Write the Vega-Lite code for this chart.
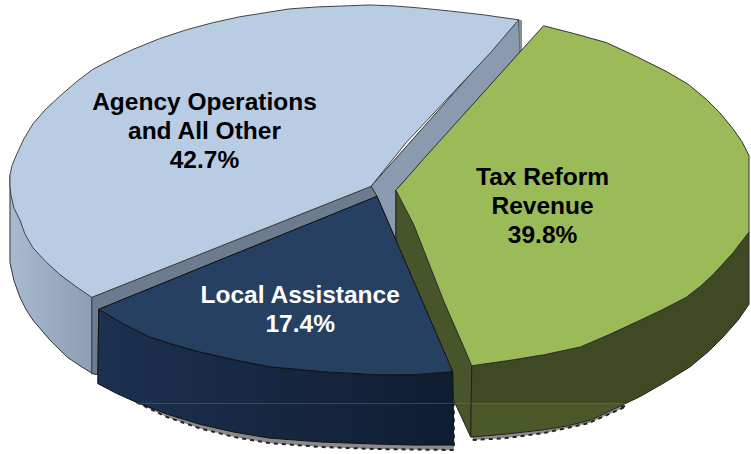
{"$schema":"https://vega.github.io/schema/vega-lite/v6.json","width":751,"height":454,"padding":0,"autosize":{"type":"fit","contains":"padding"},"background":"white","view":{"stroke":null},
"datasets":{"slices":[
{"slice":"Agency Operations and All Other","share":42.7,"label":"Agency Operations\nand All Other\n42.7%","px":205,"py":104,"tone":"dark"},
{"slice":"Tax Reform Revenue","share":39.8,"label":"Tax Reform\nRevenue\n39.8%","px":544,"py":180,"tone":"dark"},
{"slice":"Local Assistance","share":17.4,"label":"Local Assistance\n17.4%","px":301,"py":299,"tone":"light"}],
"outline":[
{"part":"shadow","n":1,"px":137,"py":406},{"part":"shadow","n":2,"px":168,"py":421},{"part":"shadow","n":3,"px":200,"py":432},{"part":"shadow","n":4,"px":235,"py":441},{"part":"shadow","n":5,"px":270,"py":447},{"part":"shadow","n":6,"px":323,"py":451},{"part":"shadow","n":7,"px":376,"py":453},{"part":"shadow","n":8,"px":455,"py":454},{"part":"shadow","n":9,"px":455,"py":405},{"part":"shadow","n":10,"px":137,"py":406},
{"part":"shadowGreen","n":1,"px":474,"py":444},{"part":"shadowGreen","n":2,"px":507,"py":442},{"part":"shadowGreen","n":3,"px":545,"py":437},{"part":"shadowGreen","n":4,"px":590,"py":427},{"part":"shadowGreen","n":5,"px":628,"py":410},{"part":"shadowGreen","n":6,"px":474,"py":405},{"part":"shadowGreen","n":7,"px":474,"py":444},
{"part":"lightSide","n":1,"px":10,"py":177},{"part":"lightSide","n":2,"px":10,"py":265},{"part":"lightSide","n":3,"px":14,"py":283},{"part":"lightSide","n":4,"px":20,"py":300},{"part":"lightSide","n":5,"px":26,"py":312},{"part":"lightSide","n":6,"px":33,"py":323},{"part":"lightSide","n":7,"px":50,"py":343},{"part":"lightSide","n":8,"px":67,"py":360},{"part":"lightSide","n":9,"px":80,"py":369},{"part":"lightSide","n":10,"px":93,"py":377},{"part":"lightSide","n":11,"px":93,"py":300},{"part":"lightSide","n":12,"px":60,"py":277},{"part":"lightSide","n":13,"px":10,"py":177},
{"part":"bandRight","n":1,"px":372,"py":188},{"part":"bandRight","n":2,"px":520,"py":20},{"part":"bandRight","n":3,"px":522,"py":52},{"part":"bandRight","n":4,"px":397,"py":192},{"part":"bandRight","n":5,"px":397,"py":243},{"part":"bandRight","n":6,"px":378,"py":198},{"part":"bandRight","n":7,"px":372,"py":188},
{"part":"bandTip","n":1,"px":520,"py":20},{"part":"bandTip","n":2,"px":523,"py":21},{"part":"bandTip","n":3,"px":523,"py":50},{"part":"bandTip","n":4,"px":521,"py":53},{"part":"bandTip","n":5,"px":520,"py":20},
{"part":"bandLeft","n":1,"px":92,"py":300},{"part":"bandLeft","n":2,"px":372,"py":188},{"part":"bandLeft","n":3,"px":378,"py":198},{"part":"bandLeft","n":4,"px":99,"py":312},{"part":"bandLeft","n":5,"px":98,"py":378},{"part":"bandLeft","n":6,"px":92,"py":377},{"part":"bandLeft","n":7,"px":92,"py":300},
{"part":"lightTop","n":1,"px":520,"py":20},{"part":"lightTop","n":2,"px":485,"py":15},{"part":"lightTop","n":3,"px":450,"py":11},{"part":"lightTop","n":4,"px":420,"py":8},{"part":"lightTop","n":5,"px":395,"py":6},{"part":"lightTop","n":6,"px":370,"py":5},{"part":"lightTop","n":7,"px":345,"py":6},{"part":"lightTop","n":8,"px":318,"py":7},{"part":"lightTop","n":9,"px":290,"py":9},{"part":"lightTop","n":10,"px":265,"py":13},{"part":"lightTop","n":11,"px":240,"py":17},{"part":"lightTop","n":12,"px":213,"py":23},{"part":"lightTop","n":13,"px":187,"py":30},{"part":"lightTop","n":14,"px":160,"py":39},{"part":"lightTop","n":15,"px":133,"py":50},{"part":"lightTop","n":16,"px":112,"py":60},{"part":"lightTop","n":17,"px":93,"py":70},{"part":"lightTop","n":18,"px":76,"py":83},{"part":"lightTop","n":19,"px":60,"py":97},{"part":"lightTop","n":20,"px":46,"py":110},{"part":"lightTop","n":21,"px":33,"py":125},{"part":"lightTop","n":22,"px":24,"py":140},{"part":"lightTop","n":23,"px":17,"py":155},{"part":"lightTop","n":24,"px":12,"py":167},{"part":"lightTop","n":25,"px":10,"py":177},{"part":"lightTop","n":26,"px":10,"py":187},{"part":"lightTop","n":27,"px":11,"py":197},{"part":"lightTop","n":28,"px":14,"py":210},{"part":"lightTop","n":29,"px":20,"py":222},{"part":"lightTop","n":30,"px":25,"py":236},{"part":"lightTop","n":31,"px":33,"py":250},{"part":"lightTop","n":32,"px":46,"py":264},{"part":"lightTop","n":33,"px":60,"py":277},{"part":"lightTop","n":34,"px":76,"py":289},{"part":"lightTop","n":35,"px":92,"py":300},{"part":"lightTop","n":36,"px":372,"py":188},{"part":"lightTop","n":37,"px":408,"py":143},{"part":"lightTop","n":38,"px":492,"py":53},{"part":"lightTop","n":39,"px":520,"py":20},
{"part":"greenInner","n":1,"px":397,"py":192},{"part":"greenInner","n":2,"px":415,"py":227},{"part":"greenInner","n":3,"px":445,"py":304},{"part":"greenInner","n":4,"px":465,"py":350},{"part":"greenInner","n":5,"px":473,"py":369},{"part":"greenInner","n":6,"px":472,"py":441},{"part":"greenInner","n":7,"px":455,"py":404},{"part":"greenInner","n":8,"px":397,"py":243},{"part":"greenInner","n":9,"px":397,"py":192},
{"part":"greenSide","n":1,"px":473,"py":369},{"part":"greenSide","n":2,"px":508,"py":364},{"part":"greenSide","n":3,"px":545,"py":358},{"part":"greenSide","n":4,"px":582,"py":350},{"part":"greenSide","n":5,"px":612,"py":337},{"part":"greenSide","n":6,"px":642,"py":323},{"part":"greenSide","n":7,"px":665,"py":312},{"part":"greenSide","n":8,"px":688,"py":300},{"part":"greenSide","n":9,"px":702,"py":289},{"part":"greenSide","n":10,"px":715,"py":277},{"part":"greenSide","n":11,"px":735,"py":255},{"part":"greenSide","n":12,"px":751,"py":234},{"part":"greenSide","n":13,"px":751,"py":307},{"part":"greenSide","n":14,"px":740,"py":323},{"part":"greenSide","n":15,"px":725,"py":340},{"part":"greenSide","n":16,"px":710,"py":355},{"part":"greenSide","n":17,"px":692,"py":370},{"part":"greenSide","n":18,"px":668,"py":385},{"part":"greenSide","n":19,"px":642,"py":400},{"part":"greenSide","n":20,"px":617,"py":412},{"part":"greenSide","n":21,"px":592,"py":424},{"part":"greenSide","n":22,"px":567,"py":430},{"part":"greenSide","n":23,"px":542,"py":434},{"part":"greenSide","n":24,"px":507,"py":438},{"part":"greenSide","n":25,"px":472,"py":441},{"part":"greenSide","n":26,"px":473,"py":369},
{"part":"greenTop","n":1,"px":397,"py":192},{"part":"greenTop","n":2,"px":425,"py":160},{"part":"greenTop","n":3,"px":545,"py":26},{"part":"greenTop","n":4,"px":576,"py":34},{"part":"greenTop","n":5,"px":608,"py":43},{"part":"greenTop","n":6,"px":638,"py":57},{"part":"greenTop","n":7,"px":668,"py":72},{"part":"greenTop","n":8,"px":690,"py":85},{"part":"greenTop","n":9,"px":708,"py":100},{"part":"greenTop","n":10,"px":722,"py":114},{"part":"greenTop","n":11,"px":735,"py":130},{"part":"greenTop","n":12,"px":744,"py":143},{"part":"greenTop","n":13,"px":751,"py":157},{"part":"greenTop","n":14,"px":751,"py":234},{"part":"greenTop","n":15,"px":735,"py":255},{"part":"greenTop","n":16,"px":715,"py":277},{"part":"greenTop","n":17,"px":702,"py":289},{"part":"greenTop","n":18,"px":688,"py":300},{"part":"greenTop","n":19,"px":665,"py":312},{"part":"greenTop","n":20,"px":642,"py":323},{"part":"greenTop","n":21,"px":612,"py":337},{"part":"greenTop","n":22,"px":582,"py":350},{"part":"greenTop","n":23,"px":545,"py":358},{"part":"greenTop","n":24,"px":508,"py":364},{"part":"greenTop","n":25,"px":473,"py":369},{"part":"greenTop","n":26,"px":465,"py":350},{"part":"greenTop","n":27,"px":445,"py":304},{"part":"greenTop","n":28,"px":415,"py":227},{"part":"greenTop","n":29,"px":397,"py":192},
{"part":"darkSide","n":1,"px":99,"py":312},{"part":"darkSide","n":2,"px":124,"py":327},{"part":"darkSide","n":3,"px":150,"py":340},{"part":"darkSide","n":4,"px":175,"py":348},{"part":"darkSide","n":5,"px":200,"py":355},{"part":"darkSide","n":6,"px":235,"py":363},{"part":"darkSide","n":7,"px":270,"py":370},{"part":"darkSide","n":8,"px":323,"py":375},{"part":"darkSide","n":9,"px":376,"py":378},{"part":"darkSide","n":10,"px":415,"py":378},{"part":"darkSide","n":11,"px":454,"py":375},{"part":"darkSide","n":12,"px":455,"py":449},{"part":"darkSide","n":13,"px":415,"py":449},{"part":"darkSide","n":14,"px":376,"py":448},{"part":"darkSide","n":15,"px":323,"py":446},{"part":"darkSide","n":16,"px":270,"py":442},{"part":"darkSide","n":17,"px":235,"py":436},{"part":"darkSide","n":18,"px":200,"py":428},{"part":"darkSide","n":19,"px":168,"py":418},{"part":"darkSide","n":20,"px":137,"py":406},{"part":"darkSide","n":21,"px":117,"py":397},{"part":"darkSide","n":22,"px":98,"py":387},{"part":"darkSide","n":23,"px":99,"py":312},
{"part":"darkTop","n":1,"px":378,"py":198},{"part":"darkTop","n":2,"px":99,"py":312},{"part":"darkTop","n":3,"px":124,"py":327},{"part":"darkTop","n":4,"px":150,"py":340},{"part":"darkTop","n":5,"px":175,"py":348},{"part":"darkTop","n":6,"px":200,"py":355},{"part":"darkTop","n":7,"px":235,"py":363},{"part":"darkTop","n":8,"px":270,"py":370},{"part":"darkTop","n":9,"px":323,"py":375},{"part":"darkTop","n":10,"px":376,"py":378},{"part":"darkTop","n":11,"px":415,"py":378},{"part":"darkTop","n":12,"px":454,"py":375},{"part":"darkTop","n":13,"px":378,"py":198},
{"part":"seam","n":1,"px":137,"py":407},{"part":"seam","n":2,"px":627,"py":407}
]},
"encoding":{"x":{"field":"px","type":"quantitative","scale":{"domain":[0,751],"nice":false,"zero":false},"axis":null},"y":{"field":"py","type":"quantitative","scale":{"domain":[454,0],"nice":false,"zero":false},"axis":null}},
"layer":[
{"data":{"name":"outline"},"transform":[{"filter":"datum.part=='shadow'||datum.part=='shadowGreen'"}],"mark":{"type":"line","fill":"#8a8a8a","stroke":"#222222","strokeWidth":2,"strokeDash":[4,4]},"encoding":{"order":{"field":"n"},"detail":{"field":"part"}}},
{"data":{"name":"outline"},"transform":[{"filter":"datum.part=='lightSide'"}],"mark":{"type":"line","stroke":"#333333","strokeWidth":1,"fill":{"x1":0,"x2":1,"y1":0,"y2":0,"gradient":"linear","stops":[{"offset":0,"color":"#a9bad0"},{"offset":1,"color":"#8d9db2"}]}},"encoding":{"order":{"field":"n"}}},
{"data":{"name":"outline"},"transform":[{"filter":"datum.part=='bandRight'"}],"mark":{"type":"line","stroke":"#333333","strokeWidth":1,"fill":"#8a9bb0"},"encoding":{"order":{"field":"n"}}},
{"data":{"name":"outline"},"transform":[{"filter":"datum.part=='bandTip'"}],"mark":{"type":"line","stroke":"#555555","strokeWidth":0.5,"fill":"#8c8c8c"},"encoding":{"order":{"field":"n"}}},
{"data":{"name":"outline"},"transform":[{"filter":"datum.part=='bandLeft'"}],"mark":{"type":"line","stroke":"#333333","strokeWidth":1,"fill":"#6c7b8e"},"encoding":{"order":{"field":"n"}}},
{"data":{"name":"outline"},"transform":[{"filter":"datum.part=='lightTop'"}],"mark":{"type":"line","stroke":"#444444","strokeWidth":1,"fill":"#b8cce4"},"encoding":{"order":{"field":"n"}}},
{"data":{"name":"outline"},"transform":[{"filter":"datum.part=='greenInner'"}],"mark":{"type":"line","stroke":"#222222","strokeWidth":1,"fill":"#48552a"},"encoding":{"order":{"field":"n"}}},
{"data":{"name":"outline"},"transform":[{"filter":"datum.part=='greenSide'"}],"mark":{"type":"line","stroke":"#222222","strokeWidth":1,"fill":{"x1":0,"x2":0,"y1":0,"y2":1,"gradient":"linear","stops":[{"offset":0,"color":"#3f4a25"},{"offset":0.83,"color":"#3f4a25"},{"offset":0.84,"color":"#4b5829"},{"offset":1,"color":"#4b5829"}]}},"encoding":{"order":{"field":"n"}}},
{"data":{"name":"outline"},"transform":[{"filter":"datum.part=='greenTop'"}],"mark":{"type":"line","stroke":"#333333","strokeWidth":1,"fill":"#9bbb59"},"encoding":{"order":{"field":"n"}}},
{"data":{"name":"outline"},"transform":[{"filter":"datum.part=='darkSide'"}],"mark":{"type":"line","stroke":"#111111","strokeWidth":1,"fill":{"x1":0,"x2":1,"y1":0,"y2":0,"gradient":"linear","stops":[{"offset":0,"color":"#1c3150"},{"offset":1,"color":"#0f1d31"}]}},"encoding":{"order":{"field":"n"}}},
{"data":{"name":"outline"},"transform":[{"filter":"datum.part=='darkTop'"}],"mark":{"type":"line","stroke":"#111111","strokeWidth":1,"fill":"#254061"},"encoding":{"order":{"field":"n"}}},
{"data":{"name":"outline"},"transform":[{"filter":"datum.part=='seam'"}],"mark":{"type":"line","stroke":"#8a8a8a","strokeWidth":1,"opacity":0.35},"encoding":{"order":{"field":"n"}}},
{"data":{"name":"slices"},"mark":{"type":"text","font":"Liberation Sans","fontWeight":"bold","fontSize":24.5,"lineBreak":"\n","lineHeight":29,"align":"center","baseline":"middle"},"encoding":{"text":{"field":"label"},"color":{"field":"tone","type":"nominal","scale":{"domain":["dark","light"],"range":["#000000","#ffffff"]},"legend":null}}}
]}
